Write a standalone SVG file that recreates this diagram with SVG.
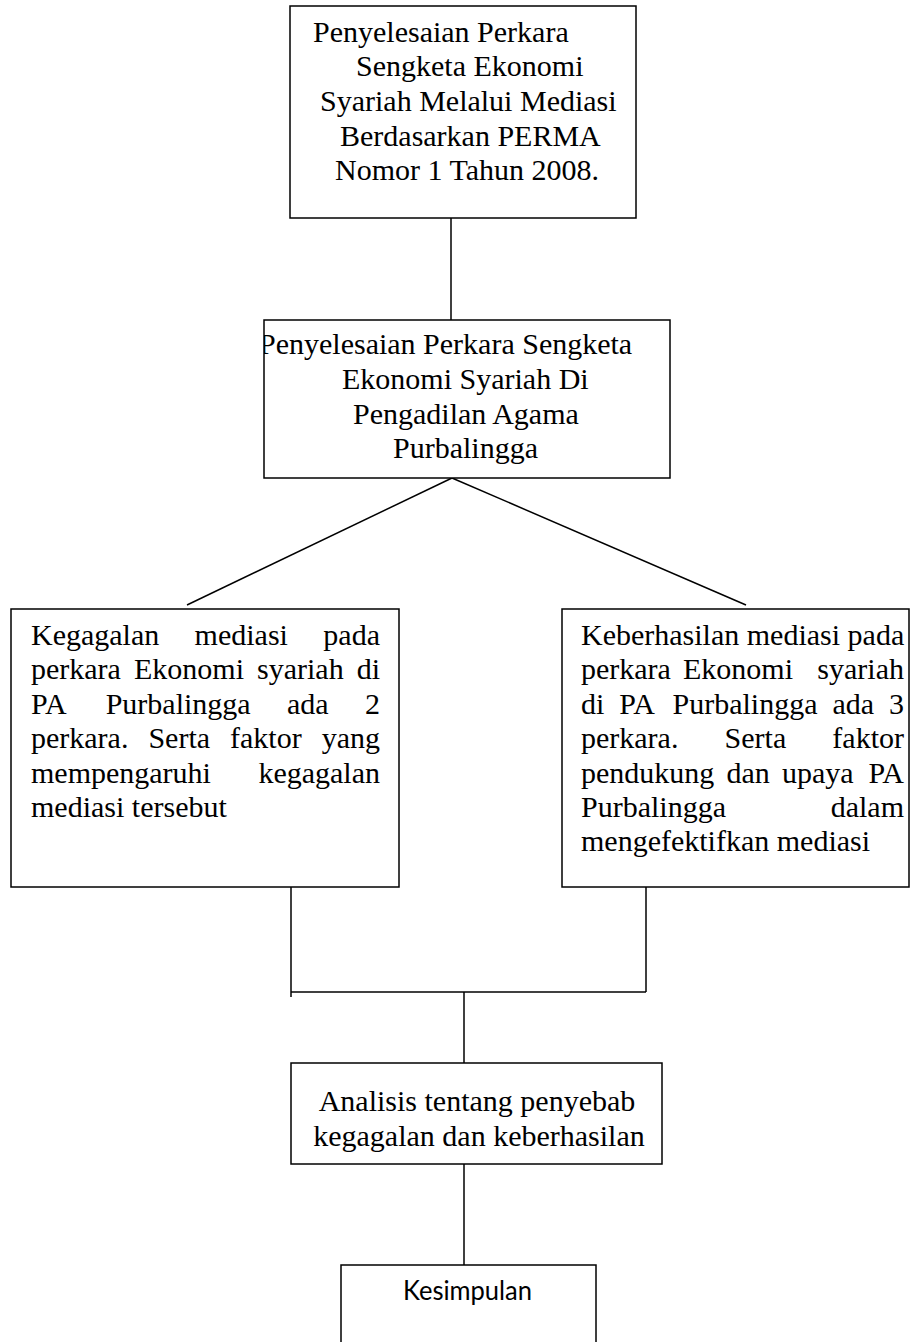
<svg xmlns="http://www.w3.org/2000/svg" width="911" height="1342" viewBox="0 0 911 1342">
<style>
.box{fill:#fff;stroke:#000;stroke-width:1.5}
.ln{fill:none;stroke:#000;stroke-width:1.5}
.t{font-family:"Liberation Serif","Times New Roman",serif;font-size:30px;fill:#000}
.m{text-anchor:middle}
.e{text-anchor:end}
.s{font-family:Lato,"Open Sans",sans-serif;font-size:26px;fill:#000}
</style>
<defs>
<clipPath id="c2"><rect x="264" y="320" width="406" height="158"/></clipPath>
</defs>
<rect width="911" height="1342" fill="#fff"/>
<g id="connectors">
<line class="ln" x1="451" y1="218" x2="451" y2="320"/>
<line class="ln" x1="452" y1="478" x2="187" y2="605"/>
<line class="ln" x1="452" y1="478" x2="746" y2="605"/>
<line class="ln" x1="291" y1="887" x2="291" y2="997"/>
<line class="ln" x1="646" y1="883" x2="646" y2="992"/>
<line class="ln" x1="291" y1="992" x2="646" y2="992"/>
<line class="ln" x1="464" y1="992" x2="464" y2="1063"/>
<line class="ln" x1="464" y1="1164" x2="464" y2="1265"/>
</g>
<g id="node1">
<rect class="box" x="290" y="6" width="346" height="212"/>
<text class="t" x="313" y="42">Penyelesaian Perkara</text>
<text class="t" x="356" y="76">Sengketa Ekonomi</text>
<text class="t" x="320" y="111">Syariah Melalui Mediasi</text>
<text class="t" x="340" y="146">Berdasarkan PERMA</text>
<text class="t" x="335" y="180">Nomor 1 Tahun 2008.</text>
</g>
<g id="node2">
<rect class="box" x="264" y="320" width="406" height="158"/>
<g clip-path="url(#c2)">
<text class="t" x="259" y="354">Penyelesaian Perkara Sengketa</text>
<text class="t" x="342" y="389">Ekonomi Syariah Di</text>
<text class="t" x="353" y="424">Pengadilan Agama</text>
<text class="t" x="393" y="458">Purbalingga</text>
</g>
</g>
<g id="node3">
<rect class="box" x="11" y="609" width="388" height="278"/>
<text class="t" x="31" y="645">Kegagalan</text>
<text class="t" x="194.6" y="645">mediasi</text>
<text class="t e" x="380" y="645">pada</text>
<text class="t" x="31" y="679.4">perkara</text>
<text class="t" x="134" y="679.4">Ekonomi</text>
<text class="t" x="257" y="679.4">syariah</text>
<text class="t e" x="380" y="679.4">di</text>
<text class="t" x="31" y="713.8">PA</text>
<text class="t" x="105.7" y="713.8">Purbalingga</text>
<text class="t" x="287" y="713.8">ada</text>
<text class="t e" x="380" y="713.8">2</text>
<text class="t" x="31" y="748.2">perkara.</text>
<text class="t" x="148.4" y="748.2">Serta</text>
<text class="t" x="230" y="748.2">faktor</text>
<text class="t e" x="380" y="748.2">yang</text>
<text class="t" x="31" y="782.6">mempengaruhi</text>
<text class="t e" x="380" y="782.6">kegagalan</text>
<text class="t" x="31" y="817">mediasi tersebut</text>
</g>
<g id="node4">
<rect class="box" x="562" y="609" width="347" height="278"/>
<text class="t" x="581" y="645">Keberhasilan mediasi pada</text>
<text class="t" x="581" y="679.4">perkara</text>
<text class="t" x="683" y="679.4">Ekonomi</text>
<text class="t e" x="904" y="679.4">syariah</text>
<text class="t" x="581" y="713.8">di</text>
<text class="t" x="619.3" y="713.8">PA</text>
<text class="t" x="672.5" y="713.8">Purbalingga</text>
<text class="t" x="832.4" y="713.8">ada</text>
<text class="t e" x="904" y="713.8">3</text>
<text class="t" x="581" y="748.2">perkara.</text>
<text class="t" x="724.6" y="748.2">Serta</text>
<text class="t e" x="904" y="748.2">faktor</text>
<text class="t" x="581" y="782.6">pendukung</text>
<text class="t" x="726.4" y="782.6">dan</text>
<text class="t" x="781.9" y="782.6">upaya</text>
<text class="t e" x="904" y="782.6">PA</text>
<text class="t" x="581" y="817">Purbalingga</text>
<text class="t e" x="904" y="817">dalam</text>
<text class="t" x="581" y="851.4">mengefektifkan mediasi</text>
</g>
<g id="node5">
<rect class="box" x="291" y="1063" width="371" height="101"/>
<text class="t m" x="477" y="1111">Analisis tentang penyebab</text>
<text class="t m" x="479" y="1146">kegagalan dan keberhasilan</text>
</g>
<g id="node6">
<rect class="box" x="341" y="1265" width="255" height="90"/>
<text class="s" x="403" y="1300" textLength="129" lengthAdjust="spacingAndGlyphs">Kesimpulan</text>
</g>
</svg>
